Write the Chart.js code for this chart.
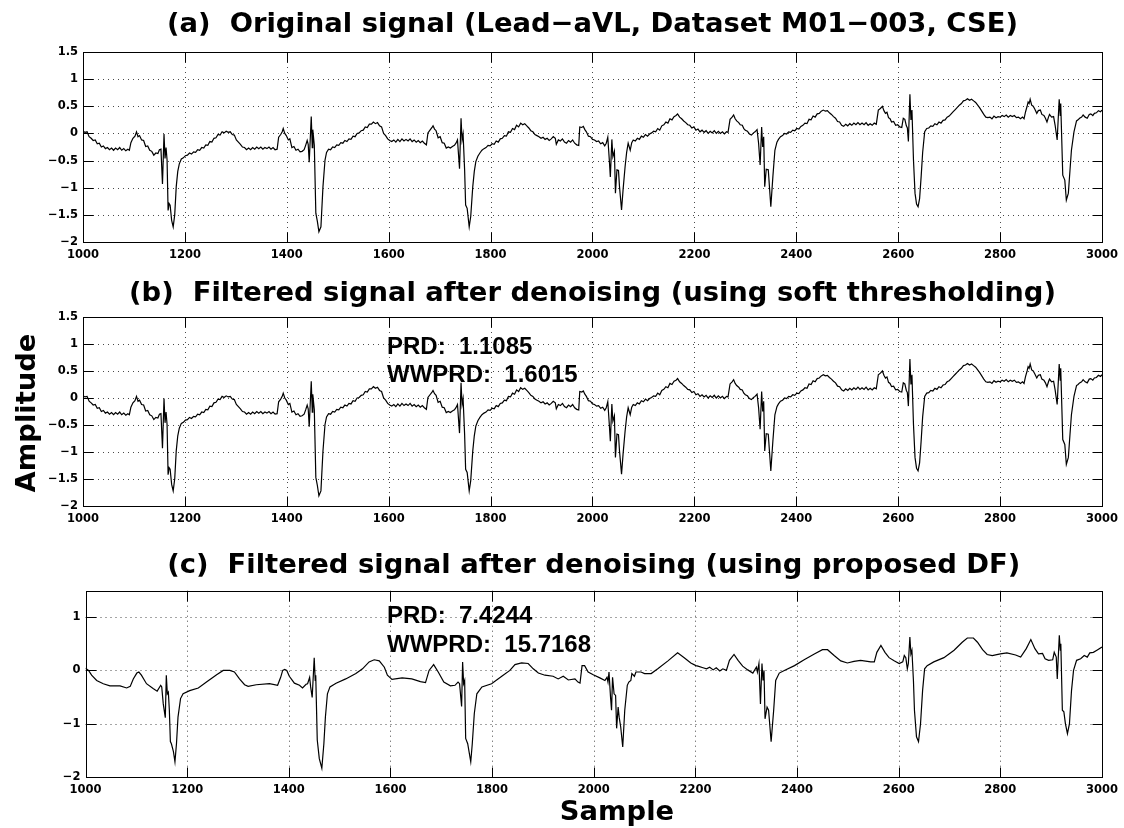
<!DOCTYPE html>
<html>
<head>
<meta charset="utf-8">
<script src="https://cdn.jsdelivr.net/npm/chart.js@4.4.1/dist/chart.umd.min.js"></script>
<style>
html,body{margin:0;padding:0;background:#fff;}
#wrap{position:relative;width:1124px;height:828px;overflow:hidden;background:#fff;}
canvas{position:absolute;left:0;}
</style>
</head>
<body>
<div id="wrap">
<canvas id="ca" width="1124" height="270" style="top:0px;width:1124px;height:270px"></canvas>
<canvas id="cb" width="1124" height="270" style="top:270px;width:1124px;height:270px"></canvas>
<canvas id="cc" width="1124" height="288" style="top:540px;width:1124px;height:288px"></canvas>
</div>
<script>
// ---------- tick labels ----------
const xTickVals = [1000,1200,1400,1600,1800,2000,2200,2400,2600,2800,3000];
const yTickValsAB = [-2,-1.5,-1,-0.5,0,0.5,1,1.5];
const yTickValsC = [-2,-1,0,1];

// ---------- titles / annotations ----------
const titleA = "(a)  Original signal (Lead\u2212aVL, Dataset M01\u2212003, CSE)";
const titleB = "(b)  Filtered signal after denoising (using soft thresholding)";
const titleC = "(c)  Filtered signal after denoising (using proposed DF)";
const statsB = ["PRD:  1.1085", "WWPRD:  1.6015"];
const statsC = ["PRD:  7.4244", "WWPRD:  15.7168"];
const yAxisLabel = "Amplitude";
const xAxisLabel = "Sample";

// ---------- panel (a) & (b): sample index ----------
const sampAB = [1000,1004,1008,1012,1016,1020,1024,1028,1032,1036,1040,1044,1048,1052,1056,1060,1064,1068,1072,1076,1080,1084,1088,1091,1094,1098,1102,1105,1108,1111,1115,1119,1123,1127,1131,1135,1139,1143,1147,1150,1153,1156,1159,1161,1163,1165,1167,1169,1171,1174,1177,1180,1183,1186,1189,1193,1197,1201,1205,1209,1213,1217,1221,1225,1229,1233,1237,1241,1245,1249,1253,1257,1261,1265,1269,1273,1277,1281,1285,1289,1293,1297,1301,1305,1309,1313,1317,1321,1325,1329,1333,1337,1341,1345,1349,1353,1357,1361,1365,1369,1373,1377,1381,1384,1388,1391,1393,1396,1399,1403,1406,1410,1414,1418,1422,1426,1430,1434,1437,1440,1442,1444,1448,1450,1451,1454,1457,1460,1463,1467,1471,1475,1478,1482,1486,1490,1494,1498,1502,1506,1510,1514,1518,1522,1526,1530,1534,1538,1542,1546,1550,1554,1558,1562,1566,1570,1574,1578,1582,1586,1590,1594,1598,1602,1606,1610,1614,1618,1622,1626,1630,1634,1638,1642,1646,1650,1654,1658,1662,1666,1670,1674,1677,1681,1685,1687,1690,1693,1697,1701,1705,1709,1713,1717,1721,1725,1729,1732,1735,1739,1742,1744,1746,1749,1751,1754,1758,1761,1765,1768,1771,1775,1779,1783,1787,1791,1795,1799,1803,1807,1811,1815,1819,1823,1827,1831,1835,1839,1843,1847,1851,1855,1859,1863,1867,1871,1875,1879,1883,1887,1891,1895,1899,1903,1907,1911,1915,1919,1923,1927,1929,1933,1937,1941,1945,1949,1953,1957,1961,1965,1969,1973,1975,1979,1982,1985,1988,1992,1996,2000,2004,2008,2012,2016,2020,2024,2027,2030,2033,2035,2038,2040,2043,2045,2048,2051,2053,2057,2060,2064,2067,2070,2074,2077,2080,2084,2088,2092,2096,2100,2104,2108,2112,2116,2120,2124,2128,2132,2136,2140,2144,2148,2152,2156,2160,2164,2167,2171,2175,2179,2183,2187,2191,2195,2199,2203,2207,2211,2215,2219,2223,2227,2231,2235,2239,2243,2247,2251,2255,2259,2263,2266,2270,2274,2277,2280,2283,2287,2290,2294,2297,2300,2304,2308,2312,2316,2319,2323,2326,2329,2332,2334,2336,2338,2341,2345,2350,2354,2358,2362,2365,2369,2373,2377,2381,2385,2389,2393,2397,2401,2405,2409,2413,2417,2421,2425,2429,2433,2437,2441,2445,2449,2453,2457,2461,2465,2469,2473,2477,2481,2485,2489,2493,2497,2501,2505,2509,2513,2517,2521,2525,2529,2533,2537,2541,2545,2549,2553,2557,2561,2565,2569,2572,2575,2578,2581,2584,2587,2591,2595,2599,2603,2607,2610,2613,2616,2618,2620,2623,2625,2627,2630,2633,2636,2639,2642,2645,2648,2652,2656,2660,2664,2668,2672,2676,2680,2684,2688,2692,2696,2700,2704,2708,2712,2716,2720,2724,2728,2732,2736,2740,2744,2748,2752,2756,2760,2764,2768,2772,2776,2780,2784,2788,2792,2796,2800,2804,2808,2812,2816,2820,2824,2828,2832,2836,2840,2844,2847,2850,2853,2855,2857,2859,2862,2865,2868,2872,2875,2879,2882,2886,2889,2892,2895,2897,2901,2905,2908,2912,2916,2918,2919,2923,2927,2930,2934,2937,2940,2945,2950,2953,2956,2960,2963,2967,2971,2975,2978,2982,2985,2989,2993,2997,3000];

// panel (a): original signal amplitude
const ampA = [0.04,0.02,0.03,-0.06,-0.09,-0.13,-0.12,-0.19,-0.18,-0.25,-0.23,-0.28,-0.26,-0.30,-0.27,-0.31,-0.27,-0.30,-0.26,-0.31,-0.28,-0.32,-0.29,-0.31,-0.17,-0.09,-0.05,0.03,-0.06,-0.04,-0.12,-0.13,-0.24,-0.23,-0.31,-0.33,-0.40,-0.36,-0.37,-0.30,-0.29,-0.93,-0.01,-0.46,-0.26,-0.49,-1.42,-1.29,-1.32,-1.60,-1.72,-1.50,-0.98,-0.70,-0.56,-0.47,-0.45,-0.41,-0.40,-0.36,-0.38,-0.34,-0.35,-0.30,-0.31,-0.26,-0.27,-0.21,-0.22,-0.15,-0.16,-0.09,-0.08,-0.02,-0.03,0.03,0.01,0.04,0.02,0.03,-0.02,-0.03,-0.12,-0.16,-0.20,-0.25,-0.26,-0.30,-0.27,-0.30,-0.26,-0.29,-0.25,-0.28,-0.25,-0.29,-0.26,-0.28,-0.25,-0.29,-0.26,-0.30,-0.29,-0.07,-0.02,0.03,0.09,0.00,-0.04,-0.12,-0.10,-0.26,-0.24,-0.31,-0.29,-0.34,-0.33,-0.30,-0.22,-0.13,-0.20,-0.53,0.31,-0.26,0.07,-0.22,-1.47,-1.62,-1.81,-1.72,-0.98,-0.49,-0.35,-0.29,-0.30,-0.25,-0.26,-0.21,-0.22,-0.17,-0.18,-0.13,-0.15,-0.10,-0.11,-0.05,-0.06,0.00,0.01,0.05,0.06,0.12,0.11,0.17,0.17,0.21,0.18,0.20,0.14,0.12,0.00,-0.04,-0.10,-0.13,-0.15,-0.12,-0.16,-0.11,-0.15,-0.10,-0.14,-0.11,-0.14,-0.10,-0.15,-0.12,-0.16,-0.13,-0.17,-0.14,-0.18,-0.21,0.01,0.06,0.11,0.14,0.08,0.05,-0.08,-0.06,-0.17,-0.18,-0.27,-0.25,-0.27,-0.24,-0.22,-0.18,-0.12,-0.65,0.28,-0.12,-0.01,-0.67,-1.32,-1.38,-1.72,-1.53,-0.98,-0.70,-0.52,-0.42,-0.36,-0.31,-0.28,-0.26,-0.22,-0.23,-0.19,-0.20,-0.14,-0.16,-0.10,-0.09,-0.04,-0.05,0.03,0.02,0.09,0.07,0.15,0.12,0.19,0.16,0.18,0.14,0.10,0.05,0.03,-0.02,-0.04,-0.06,-0.09,-0.07,-0.11,-0.09,-0.13,-0.10,-0.06,-0.09,-0.20,-0.12,-0.14,-0.10,-0.16,-0.18,-0.13,-0.16,-0.12,-0.18,-0.21,-0.22,0.12,0.11,0.13,0.07,0.03,-0.05,-0.06,-0.11,-0.12,-0.15,-0.14,-0.19,-0.17,-0.23,-0.18,-0.07,-0.49,-0.80,-0.11,-0.43,-0.33,-1.10,-0.67,-0.68,-0.98,-1.41,-1.04,-0.61,-0.35,-0.18,-0.31,-0.17,-0.12,-0.14,-0.09,-0.11,-0.05,-0.07,-0.02,-0.05,-0.01,0.01,0.04,0.03,0.09,0.06,0.14,0.16,0.21,0.19,0.27,0.25,0.31,0.33,0.36,0.30,0.27,0.23,0.20,0.16,0.15,0.10,0.12,0.06,0.08,0.03,0.06,0.02,0.05,0.00,0.04,0.01,0.05,0.00,0.04,0.00,0.03,-0.01,0.03,0.02,0.26,0.30,0.34,0.27,0.23,0.20,0.16,0.15,0.09,0.06,0.04,-0.01,-0.03,0.01,0.03,0.07,-0.18,-0.58,0.12,-0.25,-0.06,-0.98,-0.66,-0.67,-1.35,-0.80,-0.31,-0.16,-0.11,-0.06,-0.04,0.00,-0.01,0.03,0.02,0.06,0.05,0.09,0.08,0.13,0.15,0.19,0.18,0.26,0.25,0.32,0.30,0.36,0.37,0.41,0.43,0.41,0.42,0.38,0.35,0.31,0.28,0.22,0.21,0.15,0.13,0.17,0.14,0.18,0.15,0.19,0.16,0.20,0.16,0.19,0.16,0.20,0.15,0.18,0.15,0.19,0.17,0.43,0.46,0.50,0.42,0.37,0.39,0.29,0.27,0.21,0.22,0.15,0.16,0.12,0.11,0.28,0.26,0.14,0.10,-0.15,0.72,0.25,0.43,-0.49,-1.10,-1.30,-1.35,-1.20,-0.80,-0.35,0.03,0.09,0.10,0.14,0.13,0.18,0.16,0.21,0.19,0.24,0.25,0.30,0.32,0.36,0.40,0.44,0.48,0.52,0.55,0.60,0.61,0.64,0.61,0.63,0.60,0.57,0.52,0.47,0.41,0.35,0.30,0.29,0.30,0.27,0.32,0.29,0.31,0.30,0.33,0.31,0.34,0.30,0.33,0.31,0.33,0.29,0.30,0.27,0.30,0.27,0.40,0.50,0.58,0.55,0.63,0.52,0.50,0.45,0.37,0.42,0.43,0.35,0.33,0.28,0.21,0.30,0.35,0.30,0.31,0.15,-0.12,0.63,0.33,0.55,-0.77,-0.86,-1.23,-1.10,-0.70,-0.31,0.03,0.23,0.25,0.28,0.30,0.34,0.30,0.28,0.35,0.36,0.33,0.37,0.38,0.42,0.40,0.43];

// panel (b): soft-thresholded signal amplitude (reads the same as (a) at this resolution)
const ampB = [0.04,0.02,0.03,-0.06,-0.09,-0.13,-0.12,-0.19,-0.18,-0.25,-0.23,-0.28,-0.26,-0.30,-0.27,-0.31,-0.27,-0.30,-0.26,-0.31,-0.28,-0.32,-0.29,-0.31,-0.17,-0.09,-0.05,0.03,-0.06,-0.04,-0.12,-0.13,-0.24,-0.23,-0.31,-0.33,-0.40,-0.36,-0.37,-0.30,-0.29,-0.93,-0.01,-0.46,-0.26,-0.49,-1.42,-1.29,-1.32,-1.60,-1.72,-1.50,-0.98,-0.70,-0.56,-0.47,-0.45,-0.41,-0.40,-0.36,-0.38,-0.34,-0.35,-0.30,-0.31,-0.26,-0.27,-0.21,-0.22,-0.15,-0.16,-0.09,-0.08,-0.02,-0.03,0.03,0.01,0.04,0.02,0.03,-0.02,-0.03,-0.12,-0.16,-0.20,-0.25,-0.26,-0.30,-0.27,-0.30,-0.26,-0.29,-0.25,-0.28,-0.25,-0.29,-0.26,-0.28,-0.25,-0.29,-0.26,-0.30,-0.29,-0.07,-0.02,0.03,0.09,0.00,-0.04,-0.12,-0.10,-0.26,-0.24,-0.31,-0.29,-0.34,-0.33,-0.30,-0.22,-0.13,-0.20,-0.53,0.31,-0.26,0.07,-0.22,-1.47,-1.62,-1.81,-1.72,-0.98,-0.49,-0.35,-0.29,-0.30,-0.25,-0.26,-0.21,-0.22,-0.17,-0.18,-0.13,-0.15,-0.10,-0.11,-0.05,-0.06,0.00,0.01,0.05,0.06,0.12,0.11,0.17,0.17,0.21,0.18,0.20,0.14,0.12,0.00,-0.04,-0.10,-0.13,-0.15,-0.12,-0.16,-0.11,-0.15,-0.10,-0.14,-0.11,-0.14,-0.10,-0.15,-0.12,-0.16,-0.13,-0.17,-0.14,-0.18,-0.21,0.01,0.06,0.11,0.14,0.08,0.05,-0.08,-0.06,-0.17,-0.18,-0.27,-0.25,-0.27,-0.24,-0.22,-0.18,-0.12,-0.65,0.28,-0.12,-0.01,-0.67,-1.32,-1.38,-1.72,-1.53,-0.98,-0.70,-0.52,-0.42,-0.36,-0.31,-0.28,-0.26,-0.22,-0.23,-0.19,-0.20,-0.14,-0.16,-0.10,-0.09,-0.04,-0.05,0.03,0.02,0.09,0.07,0.15,0.12,0.19,0.16,0.18,0.14,0.10,0.05,0.03,-0.02,-0.04,-0.06,-0.09,-0.07,-0.11,-0.09,-0.13,-0.10,-0.06,-0.09,-0.20,-0.12,-0.14,-0.10,-0.16,-0.18,-0.13,-0.16,-0.12,-0.18,-0.21,-0.22,0.12,0.11,0.13,0.07,0.03,-0.05,-0.06,-0.11,-0.12,-0.15,-0.14,-0.19,-0.17,-0.23,-0.18,-0.07,-0.49,-0.80,-0.11,-0.43,-0.33,-1.10,-0.67,-0.68,-0.98,-1.41,-1.04,-0.61,-0.35,-0.18,-0.31,-0.17,-0.12,-0.14,-0.09,-0.11,-0.05,-0.07,-0.02,-0.05,-0.01,0.01,0.04,0.03,0.09,0.06,0.14,0.16,0.21,0.19,0.27,0.25,0.31,0.33,0.36,0.30,0.27,0.23,0.20,0.16,0.15,0.10,0.12,0.06,0.08,0.03,0.06,0.02,0.05,0.00,0.04,0.01,0.05,0.00,0.04,0.00,0.03,-0.01,0.03,0.02,0.26,0.30,0.34,0.27,0.23,0.20,0.16,0.15,0.09,0.06,0.04,-0.01,-0.03,0.01,0.03,0.07,-0.18,-0.58,0.12,-0.25,-0.06,-0.98,-0.66,-0.67,-1.35,-0.80,-0.31,-0.16,-0.11,-0.06,-0.04,0.00,-0.01,0.03,0.02,0.06,0.05,0.09,0.08,0.13,0.15,0.19,0.18,0.26,0.25,0.32,0.30,0.36,0.37,0.41,0.43,0.41,0.42,0.38,0.35,0.31,0.28,0.22,0.21,0.15,0.13,0.17,0.14,0.18,0.15,0.19,0.16,0.20,0.16,0.19,0.16,0.20,0.15,0.18,0.15,0.19,0.17,0.43,0.46,0.50,0.42,0.37,0.39,0.29,0.27,0.21,0.22,0.15,0.16,0.12,0.11,0.28,0.26,0.14,0.10,-0.15,0.72,0.25,0.43,-0.49,-1.10,-1.30,-1.35,-1.20,-0.80,-0.35,0.03,0.09,0.10,0.14,0.13,0.18,0.16,0.21,0.19,0.24,0.25,0.30,0.32,0.36,0.40,0.44,0.48,0.52,0.55,0.60,0.61,0.64,0.61,0.63,0.60,0.57,0.52,0.47,0.41,0.35,0.30,0.29,0.30,0.27,0.32,0.29,0.31,0.30,0.33,0.31,0.34,0.30,0.33,0.31,0.33,0.29,0.30,0.27,0.30,0.27,0.40,0.50,0.58,0.55,0.63,0.52,0.50,0.45,0.37,0.42,0.43,0.35,0.33,0.28,0.21,0.30,0.35,0.30,0.31,0.15,-0.12,0.63,0.33,0.55,-0.77,-0.86,-1.23,-1.10,-0.70,-0.31,0.03,0.23,0.25,0.28,0.30,0.34,0.30,0.28,0.35,0.36,0.33,0.37,0.38,0.42,0.40,0.43];

// panel (c): proposed DF output
const sampC = [1000,1006,1012,1022,1035,1048,1068,1081,1088,1094,1101,1105,1110,1120,1133,1141,1148,1150,1153,1157,1159,1161,1163,1165,1167,1169,1173,1176,1179,1182,1187,1192,1205,1222,1238,1258,1271,1284,1293,1303,1313,1320,1336,1362,1378,1384,1388,1392,1396,1401,1411,1421,1427,1434,1437,1441,1443,1446,1450,1452,1453,1456,1460,1465,1469,1472,1476,1481,1493,1512,1532,1545,1558,1568,1578,1588,1594,1603,1623,1642,1659,1669,1676,1685,1694,1705,1718,1727,1733,1736,1740,1742,1744,1746,1748,1752,1758,1761,1765,1770,1780,1799,1819,1835,1845,1858,1871,1881,1891,1904,1920,1930,1940,1950,1963,1969,1973,1977,1982,1989,1999,2012,2022,2026,2028,2030,2033,2035,2037,2040,2043,2045,2048,2050,2053,2057,2061,2066,2069,2073,2075,2080,2083,2093,2100,2113,2126,2146,2165,2178,2191,2201,2205,2215,2222,2228,2235,2241,2248,2254,2261,2267,2276,2284,2293,2303,2313,2320,2322,2325,2328,2331,2333,2335,2337,2341,2344,2349,2354,2358,2365,2375,2395,2414,2434,2450,2460,2473,2486,2499,2512,2525,2545,2552,2557,2565,2573,2581,2591,2601,2608,2611,2614,2617,2619,2622,2624,2626,2629,2631,2635,2639,2643,2647,2651,2656,2669,2689,2709,2725,2735,2747,2755,2765,2774,2784,2800,2813,2830,2840,2851,2860,2868,2875,2883,2888,2895,2903,2906,2910,2912,2916,2918,2919,2922,2925,2928,2932,2936,2940,2944,2950,2958,2965,2971,2976,2983,2990,3000];
const ampC = [0.04,0.00,-0.09,-0.19,-0.25,-0.29,-0.29,-0.33,-0.30,-0.16,-0.05,-0.03,-0.09,-0.25,-0.34,-0.39,-0.28,-0.31,-0.63,-0.89,-0.09,-0.44,-0.41,-0.75,-1.34,-1.38,-1.53,-1.72,-1.38,-0.88,-0.53,-0.44,-0.38,-0.33,-0.22,-0.08,0.00,0.00,-0.03,-0.16,-0.27,-0.30,-0.27,-0.25,-0.28,-0.13,0.00,0.02,0.00,-0.11,-0.24,-0.28,-0.33,-0.26,-0.25,-0.13,-0.31,-0.51,0.24,-0.19,-0.09,-1.31,-1.66,-1.84,-1.38,-0.88,-0.44,-0.31,-0.24,-0.16,-0.06,0.03,0.16,0.20,0.18,0.06,-0.09,-0.17,-0.14,-0.16,-0.21,-0.23,0.00,0.11,-0.03,-0.22,-0.29,-0.28,-0.22,-0.25,-0.68,0.16,-0.25,-0.19,-1.28,-1.38,-1.72,-1.38,-0.81,-0.44,-0.31,-0.25,-0.11,0.00,0.11,0.14,0.13,0.03,-0.05,-0.09,-0.11,-0.16,-0.11,-0.18,-0.16,-0.22,-0.24,0.09,0.09,-0.03,-0.08,-0.14,-0.19,-0.13,-0.22,-0.03,-0.50,-0.75,-0.13,-0.44,-0.47,-1.09,-0.69,-0.88,-1.06,-1.44,-0.75,-0.28,-0.22,-0.19,-0.06,-0.11,-0.03,-0.03,-0.06,-0.06,0.03,0.18,0.33,0.24,0.14,0.09,0.08,0.05,0.03,0.06,0.01,0.05,-0.01,0.03,0.00,0.19,0.30,0.19,0.08,0.01,-0.05,0.06,-0.03,0.13,-0.63,0.13,-0.19,0.00,-0.91,-0.69,-0.75,-1.34,-0.75,-0.19,-0.05,0.00,0.09,0.20,0.31,0.39,0.39,0.28,0.18,0.14,0.17,0.19,0.16,0.16,0.34,0.47,0.34,0.24,0.18,0.13,0.16,0.28,0.24,0.03,0.13,0.63,0.31,0.38,-0.19,-0.75,-1.25,-1.34,-1.00,-0.38,0.03,0.09,0.16,0.24,0.38,0.53,0.61,0.61,0.53,0.39,0.30,0.28,0.31,0.33,0.29,0.25,0.41,0.58,0.41,0.31,0.32,0.22,0.19,0.20,0.34,0.25,-0.16,0.66,0.38,0.50,-0.75,-0.78,-1.00,-1.19,-1.00,-0.38,0.00,0.19,0.22,0.28,0.25,0.33,0.34,0.38,0.44];

// ---------- MATLAB-like axes box, dotted grid, inward ticks, text ----------
const TICK_FONT = {family: 'DejaVu Sans', weight: 'bold', size: 11.5};
const BIG_FONT = 'bold 27.4px "DejaVu Sans"';
const STAT_FONT = 'bold 24px "Liberation Sans", Arial, sans-serif';

const matlabAxes = {
  id: 'matlabAxes',
  beforeDatasetsDraw(chart) {
    const {ctx, chartArea: a, scales: {x, y}} = chart;
    ctx.save();
    ctx.strokeStyle = '#4a4a4a';
    ctx.lineWidth = 1;
    ctx.setLineDash([1, 4]);
    x.ticks.forEach(t => {
      if (t.value <= x.min || t.value >= x.max) return;
      const px = Math.round(x.getPixelForValue(t.value)) + 0.5;
      ctx.beginPath(); ctx.moveTo(px, a.top); ctx.lineTo(px, a.bottom); ctx.stroke();
    });
    y.ticks.forEach(t => {
      if (t.value <= y.min || t.value >= y.max) return;
      const py = Math.round(y.getPixelForValue(t.value)) + 0.5;
      ctx.beginPath(); ctx.moveTo(a.left, py); ctx.lineTo(a.right, py); ctx.stroke();
    });
    ctx.restore();
  },
  afterDatasetsDraw(chart, args, opts) {
    const {ctx, chartArea: a, scales: {x, y}} = chart;
    const L = Math.round(a.left) + 0.5, R = Math.round(a.right) + 0.5;
    const T = Math.round(a.top) + 0.5, B = Math.round(a.bottom) + 0.5;
    const tl = 10;
    ctx.save();
    ctx.setLineDash([]);
    ctx.strokeStyle = '#000';
    ctx.lineWidth = 1;
    ctx.strokeRect(L, T, R - L, B - T);
    ctx.beginPath();
    x.ticks.forEach(t => {
      const px = Math.round(x.getPixelForValue(t.value)) + 0.5;
      ctx.moveTo(px, B); ctx.lineTo(px, B - tl);
      ctx.moveTo(px, T); ctx.lineTo(px, T + tl);
    });
    y.ticks.forEach(t => {
      const py = Math.round(y.getPixelForValue(t.value)) + 0.5;
      ctx.moveTo(L, py); ctx.lineTo(L + tl, py);
      ctx.moveTo(R, py); ctx.lineTo(R - tl, py);
    });
    ctx.stroke();
    ctx.fillStyle = '#000';
    // panel title, centred over the axes box
    if (opts.title) {
      ctx.font = BIG_FONT;
      ctx.textAlign = 'center';
      ctx.textBaseline = 'middle';
      ctx.fillText(opts.title, (a.left + a.right) / 2, opts.titleY);
    }
    (opts.texts || []).forEach(tx => {
      ctx.save();
      ctx.font = tx.font;
      ctx.textAlign = tx.align || 'left';
      ctx.textBaseline = tx.baseline || 'alphabetic';
      ctx.translate(tx.x, tx.y);
      if (tx.rot) ctx.rotate(tx.rot);
      ctx.fillText(tx.text, 0, 0);
      ctx.restore();
    });
    ctx.restore();
  }
};

const fmtY = v => String(v).replace('-', '\u2212');
const fmtX = v => String(v);

function makePanel(id, samples, amps, cfg) {
  return new Chart(document.getElementById(id), {
    type: 'line',
    data: {
      datasets: [{
        data: samples.map((s, i) => ({x: s, y: amps[i]})),
        borderColor: '#000',
        borderWidth: 1.2,
        pointRadius: 0,
        tension: 0,
        fill: false
      }]
    },
    options: {
      responsive: false,
      animation: false,
      devicePixelRatio: 1,
      events: [],
      layout: {padding: {left: 0, right: cfg.right, top: cfg.top, bottom: 0}},
      plugins: {
        legend: {display: false},
        tooltip: {enabled: false},
        title: {display: false},
        matlabAxes: {title: cfg.title, titleY: cfg.titleY, texts: cfg.texts}
      },
      scales: {
        x: {
          type: 'linear', min: 1000, max: 3000,
          afterBuildTicks: s => { s.ticks = xTickVals.map(v => ({value: v})); },
          afterFit: s => { s.height = cfg.xH; },
          grid: {display: false, drawTicks: false},
          border: {display: false},
          ticks: {autoSkip: false, maxRotation: 0, minRotation: 0, padding: 6, color: '#000', font: TICK_FONT, callback: fmtX}
        },
        y: {
          type: 'linear', min: -2, max: 1.5,
          afterBuildTicks: s => { s.ticks = cfg.yTicks.map(v => ({value: v})); },
          afterFit: s => { s.width = cfg.left; },
          grid: {display: false, drawTicks: false},
          border: {display: false},
          ticks: {autoSkip: false, padding: 5, color: '#000', font: TICK_FONT, callback: fmtY}
        }
      }
    },
    plugins: [matlabAxes]
  });
}

makePanel('ca', sampAB, ampA, {
  title: titleA, titleY: 25, left: 83, right: 22, top: 52, xH: 28, yTicks: yTickValsAB, texts: []
});
makePanel('cb', sampAB, ampB, {
  title: titleB, titleY: 24, left: 83, right: 22, top: 47, xH: 34, yTicks: yTickValsAB,
  texts: [
    {text: statsB[0], x: 387, y: 84, font: STAT_FONT},
    {text: statsB[1], x: 387, y: 111.5, font: STAT_FONT},
    {text: yAxisLabel, x: 28, y: 143, font: BIG_FONT, align: 'center', baseline: 'middle', rot: -Math.PI / 2}
  ]
});
makePanel('cc', sampC, ampC, {
  title: titleC, titleY: 26, left: 85.5, right: 18.5, top: 50.7, xH: 51.3, yTicks: yTickValsC,
  texts: [
    {text: statsC[0], x: 387, y: 83, font: STAT_FONT},
    {text: statsC[1], x: 387, y: 111.7, font: STAT_FONT},
    {text: xAxisLabel, x: 617, y: 273, font: BIG_FONT, align: 'center', baseline: 'middle'}
  ]
});
</script>
</body>
</html>
